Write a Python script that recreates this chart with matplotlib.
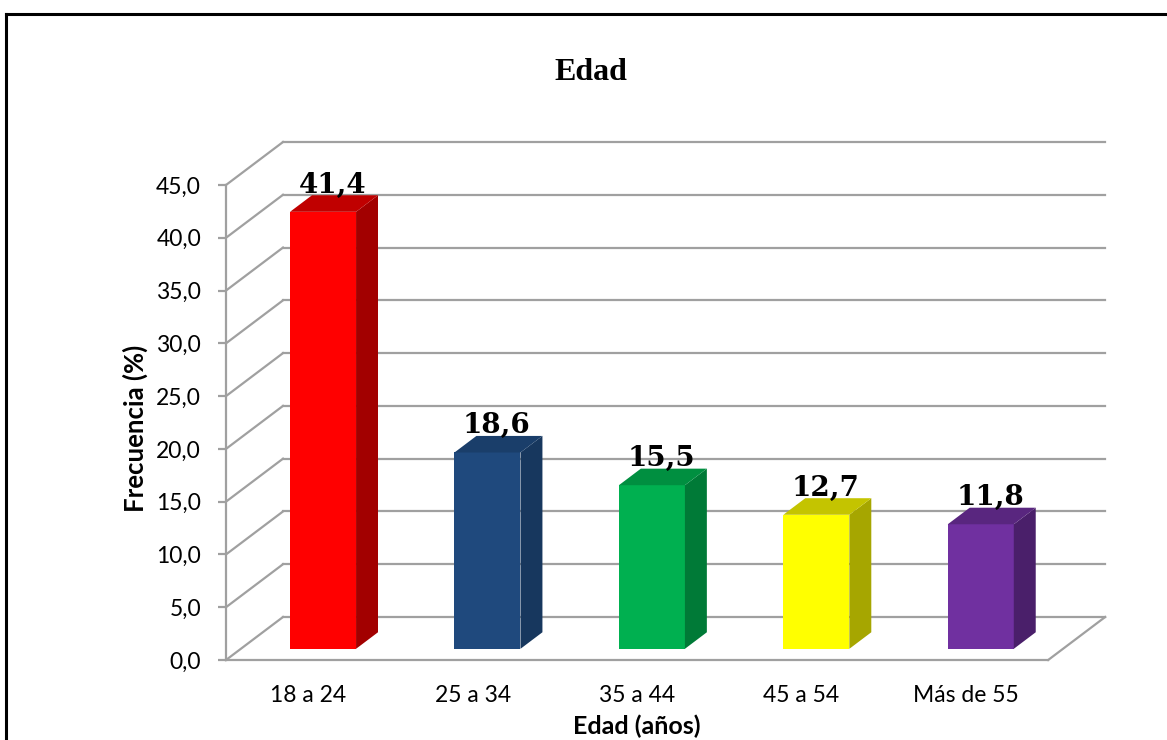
import numpy as np
import matplotlib
matplotlib.use("Agg")
import matplotlib.pyplot as plt
from matplotlib.patches import Polygon
from matplotlib.lines import Line2D

#### data
categorias = ["18 a 24", "25 a 34", "35 a 44", "45 a 54", "Más de 55"]
valores = [41.4, 18.6, 15.5, 12.7, 11.8]
yticks = [0, 5, 10, 15, 20, 25, 30, 35, 40, 45]

# front, side, top colours of each 3d bar
frente = ["#FF0000", "#1F497D", "#00B050", "#FFFF00", "#7030A0"]
lado = ["#A20000", "#17375E", "#007A37", "#A6A600", "#4A1F6A"]
techo = ["#C00000", "#1A3E6A", "#008F40", "#C4C400", "#59267F"]

################

W, H = 1167, 740
fig = plt.figure(figsize=(W / 100, H / 100), dpi=100)

# plot area in pixels: x 226..1106, y 140..660
ax = fig.add_axes([226 / W, (H - 660) / H, (1106 - 226) / W, (660 - 140) / H])

n = len(categorias)
ux = (1048 - 226) / n          # px per category
uy = (660 - 185) / 45.0        # px per unit of value
DX = 57 / ux                   # depth offset in data units
DY = 43 / uy
ax.set_xlim(0, n + DX + 0.005)
ax.set_ylim(0, (660 - 140) / uy)

gris = "#A0A0A0"
lw = 1.6

## back wall gridlines and diagonal wall lines
for v in yticks:
    ax.plot([DX, n + DX], [v + DY, v + DY], color=gris, lw=lw, zorder=1, clip_on=False)
    ax.plot([0, DX], [v, v + DY], color=gris, lw=lw, zorder=1, clip_on=False)
ax.plot([n, n + DX], [0, DY], color=gris, lw=lw, zorder=1, clip_on=False)

## bars
f0, f1 = 0.26, 0.645   # bar depth (fraction of floor depth)
ancho = 66 / ux
for i, v in enumerate(valores):
    xc = i + 0.5 + f0 * DX
    x0, x1 = xc - ancho / 2, xc + ancho / 2
    y0 = f0 * DY
    ddx, ddy = (f1 - f0) * DX, (f1 - f0) * DY
    ax.bar(xc, v, width=ancho, bottom=y0, color=frente[i], zorder=3, linewidth=0)
    ax.add_patch(Polygon([(x1, y0), (x1 + ddx, y0 + ddy), (x1 + ddx, y0 + ddy + v), (x1, y0 + v)],
                         closed=True, facecolor=lado[i], edgecolor="none", zorder=3))
    ax.add_patch(Polygon([(x0, y0 + v), (x1, y0 + v), (x1 + ddx, y0 + v + ddy), (x0 + ddx, y0 + v + ddy)],
                         closed=True, facecolor=techo[i], edgecolor="none", zorder=3))
    ax.text(xc + ddx / 2 - 0.01, y0 + v + ddy + 0.25, f"{v:.1f}".replace(".", ","),
            ha="center", va="baseline", fontsize=20, fontweight="bold",
            family="DejaVu Serif", zorder=4)

## axes
for s in ["top", "right"]:
    ax.spines[s].set_visible(False)
ax.spines["left"].set_bounds(0, 45)
ax.spines["bottom"].set_bounds(0, n)
for s in ["left", "bottom"]:
    ax.spines[s].set_color(gris)
    ax.spines[s].set_linewidth(lw)

ax.set_yticks(yticks)
ax.set_yticklabels([f"{t:.1f}".replace(".", ",") for t in yticks], family="Lato", fontsize=16.5)
ax.tick_params(axis="y", length=6, width=lw, color=gris, pad=12)
ax.set_xticks(np.arange(n) + 0.5)
ax.set_xticklabels(categorias, family="Lato", fontsize=16.5)
ax.tick_params(axis="x", length=0, pad=18)
ax.patch.set_alpha(0)

fig.text(591 / W, 1 - 72 / H, "Edad", ha="center", va="center",
         family="Liberation Serif", fontweight="bold", fontsize=23)
fig.text(135 / W, 1 - 428 / H, "Frecuencia (%)", rotation=90, ha="center", va="center",
         family="Lato", fontweight="bold", fontsize=18.5)
fig.text(637 / W, 1 - 726 / H, "Edad (años)", ha="center", va="center",
         family="Lato", fontweight="bold", fontsize=18)

## outer frame (cut at right and bottom like the reference)
fig.add_artist(Line2D([6 / W, 6 / W], [0, 1 - 13.5 / H], color="black", lw=2.2))
fig.add_artist(Line2D([6 / W, 1], [1 - 13.5 / H, 1 - 13.5 / H], color="black", lw=2.2))

plt.savefig("out.png", dpi=100)
